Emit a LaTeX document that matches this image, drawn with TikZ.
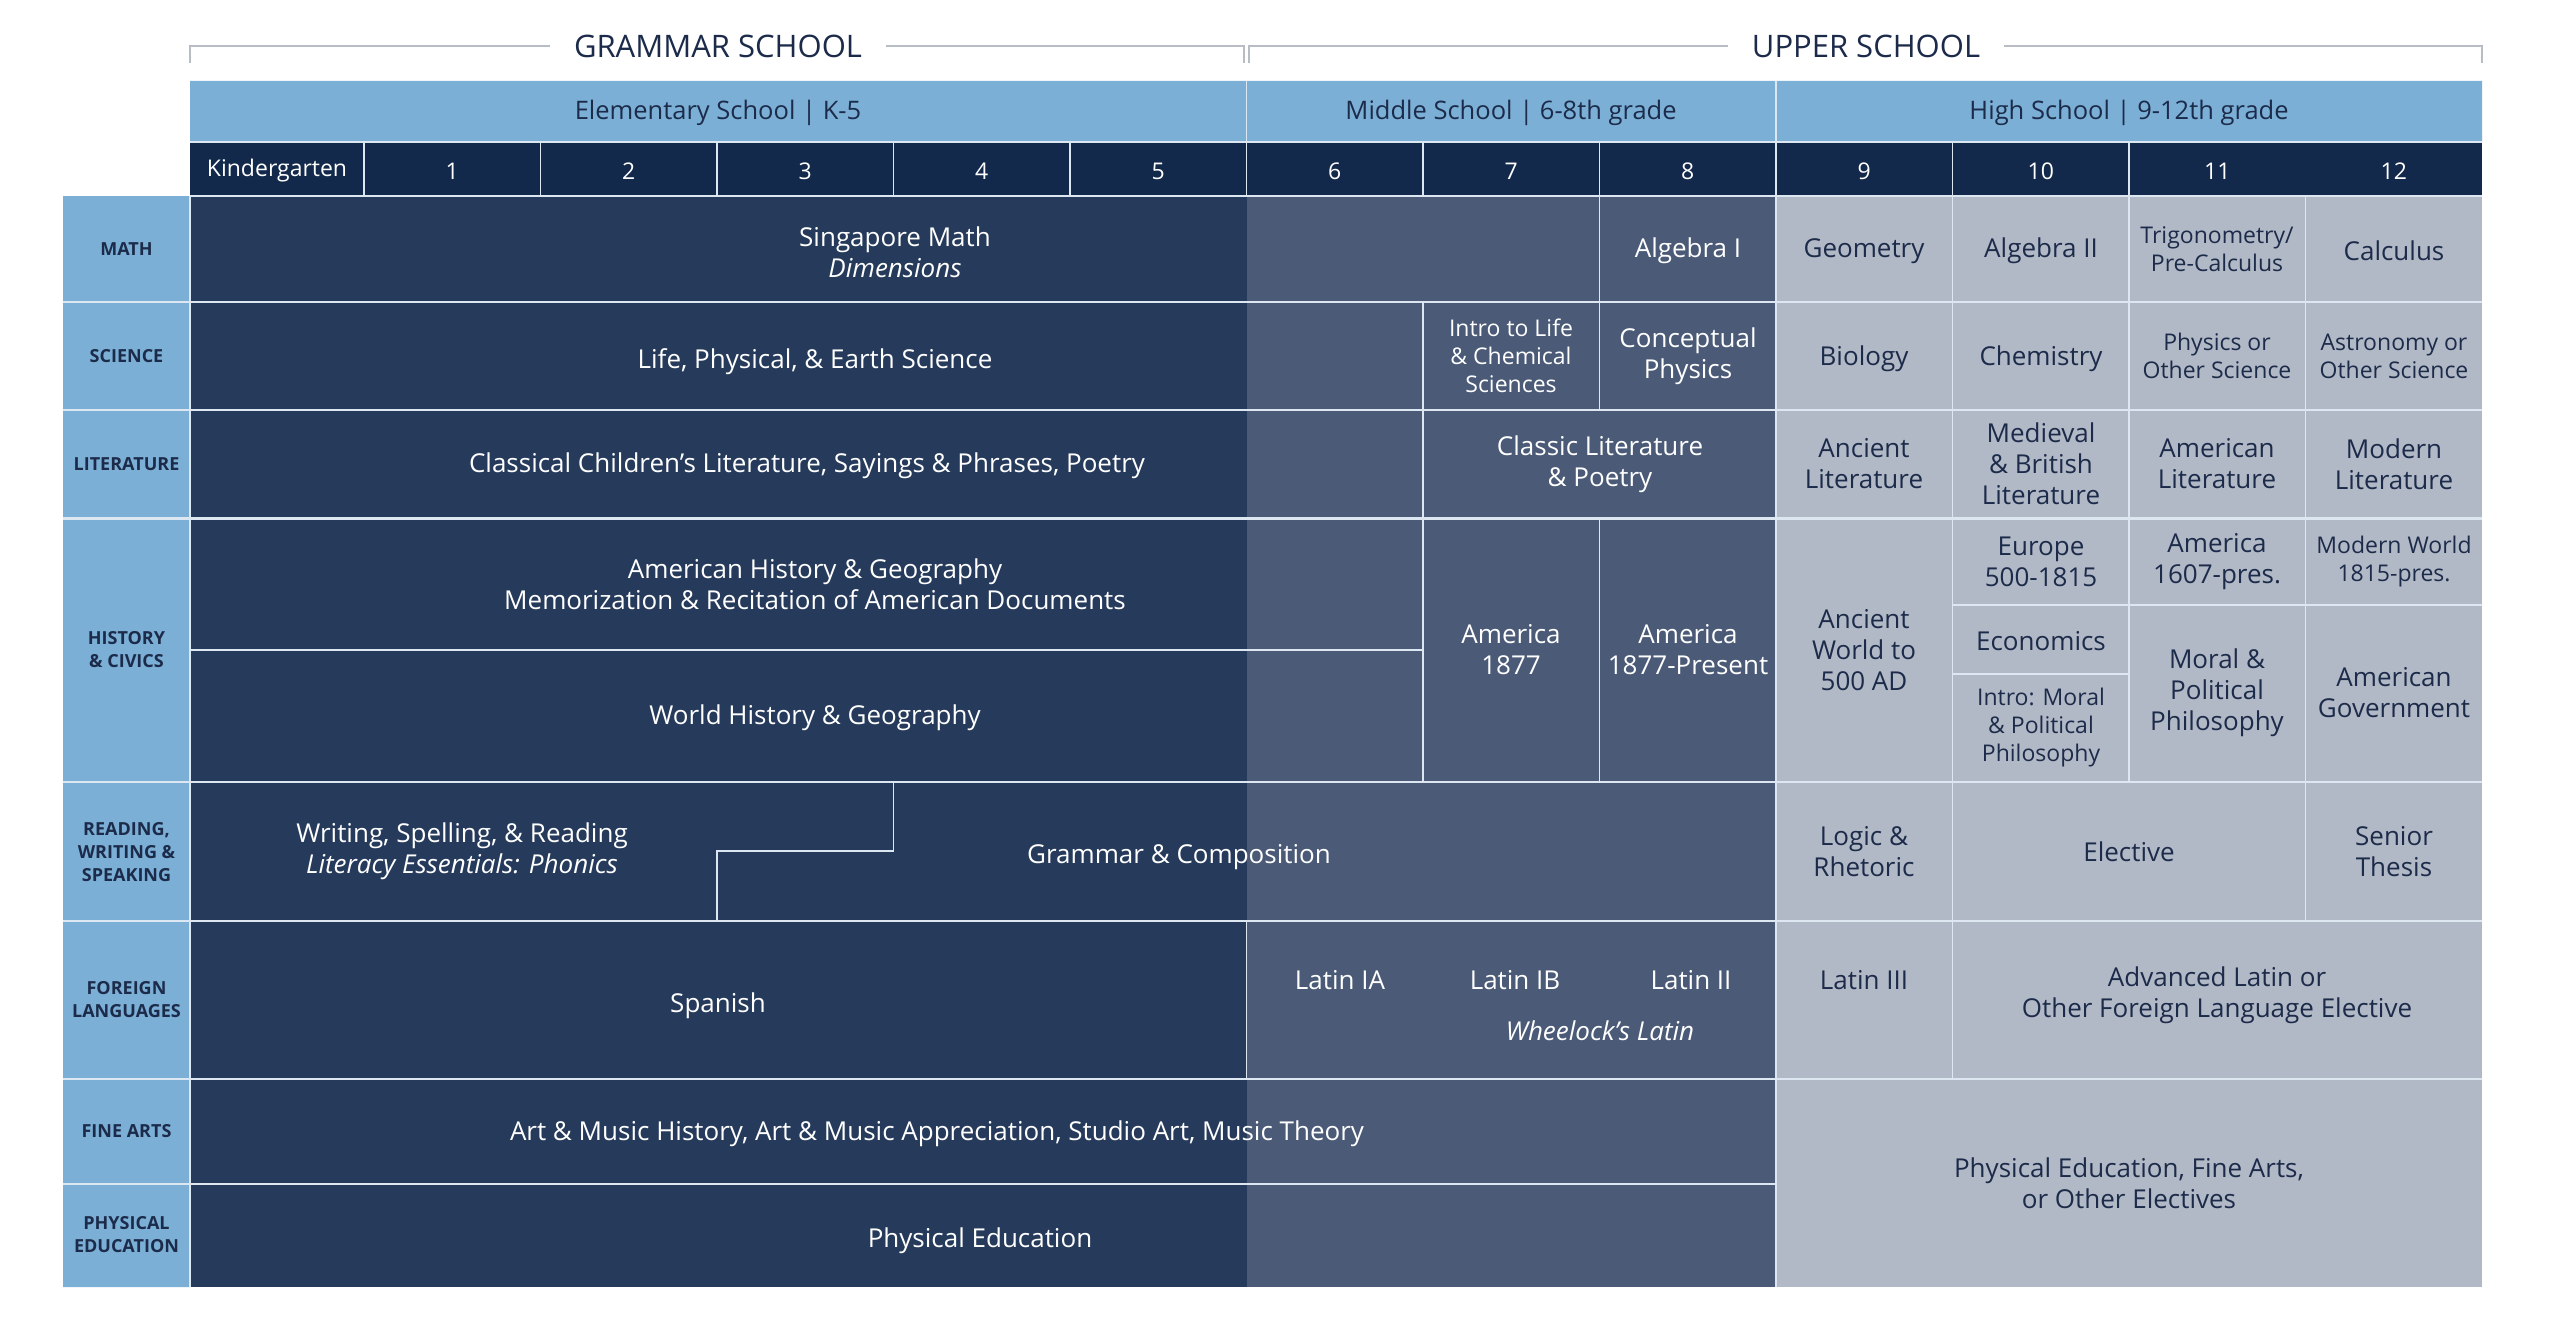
\documentclass[tikz,border=0pt]{standalone}
\usepackage{fontspec}
\setmainfont{Open Sans}
\definecolor{navy}{HTML}{13294B}
\definecolor{elem}{HTML}{263B5B}
\definecolor{mid}{HTML}{4A5A77}
\definecolor{high}{HTML}{B2B9C6}
\definecolor{sky}{HTML}{7BAFD6}
\definecolor{ink}{HTML}{1C2B4A}
\definecolor{rule}{HTML}{DDE7F2}
\definecolor{brack}{HTML}{B8BCC4}
\begin{document}
\begin{tikzpicture}[x=1pt,y=-1pt,
  rowline/.style={draw=rule,line width=2.5pt},
  cellline/.style={draw=rule,line width=1.6pt},
  brk/.style={draw=brack,line width=2pt},
  cell/.style={align=center,text=white,font=\fontsize{26}{31}\selectfont},
  lcell/.style={cell,text=ink},
  smtext/.style={font=\fontsize{23}{28}\selectfont},
  lab/.style={align=center,text=ink,font=\fontsize{18}{23}\selectfont\bfseries},
  lvl/.style={text=ink,font=\fontsize{25.5}{30}\selectfont},
  grd/.style={text=white,font=\fontsize{23}{28}\selectfont},
  ttl/.style={fill=white,inner xsep=24pt,text=ink,font=\fontsize{31}{36}\selectfont}]

% background and colour blocks
\fill[white] (0,0) rectangle (2560,1330);
\fill[sky] (190,81) rectangle (2482,142) (63,196) rectangle (190,1287);
\fill[navy] (190,142) rectangle (2482,196);
\fill[elem] (190,196) rectangle (1246.5,1287);
\fill[mid] (1246.5,196) rectangle (1776,1287);
\fill[high] (1776,196) rectangle (2482,1287);

% school brackets
\node[ttl] (gram) at (718,46) {GRAMMAR SCHOOL};
\node[ttl] (upper) at (1866,46) {UPPER SCHOOL};
\draw[brk] (gram) -| (190,63);
\draw[brk] (gram) -| (1244,63);
\draw[brk] (upper) -| (1249,63);
\draw[brk] (upper) -| (2482,63);

% levels and grades
\node[lvl] (elemlvl) at (718,113) {Elementary School | K-5};
\node[lvl] (midlvl) at (1511,113) {Middle School | 6-8th grade};
\node[lvl] (highlvl) at (2129,113) {High School | 9-12th grade};
\node[grd] (gK) at (277,171) {Kindergarten};
\foreach \g in {1,...,12}
  \node[grd] (g\g) at (275.75+176.5*\g,171) {\g};

% rules
\draw[rowline] (190,142) -- (2482,142) (190,196) -- (2482,196) (190,196) -- (190,1287);
\foreach \y in {302,410,518.5,782,921,1079}
  \draw[rowline] (63,\y) -- (2482,\y);
\draw[rowline] (63,1184) -- (1776,1184);
\draw[cellline] (1246.5,81) -- (1246.5,142) (1776,81) -- (1776,142);
\foreach \g in {0,...,10}
  \draw[cellline] (364+176.5*\g,142) -- (364+176.5*\g,196);
\draw[cellline] (1776,196) -- (1776,1287)
  (1952.5,196) -- (1952.5,1079) (2129,196) -- (2129,782) (2305.5,196) -- (2305.5,921)
  (1599.5,196) -- (1599.5,410) (1599.5,518.5) -- (1599.5,782)
  (1423,302) -- (1423,782) (1246.5,921) -- (1246.5,1079)
  (190,650) -- (1423,650) (1952.5,605) -- (2482,605) (1952.5,674) -- (2129,674)
  (893.5,782) -- (893.5,851) -- (717,851) -- (717,921);

% row labels
\foreach \n/\y/\t in {math/249/MATH, sci/356/SCIENCE, lit/464/LITERATURE,
    hist/650/{HISTORY\\\& CIVICS}, read/852/{READING,\\WRITING \&\\SPEAKING},
    lang/1000/{FOREIGN\\LANGUAGES}, arts/1131/FINE ARTS, pe/1235/{PHYSICAL\\EDUCATION}}
  \node[lab] (\n) at (126.5,\y) {\t};

% grammar school
\node[cell] (mathK) at (895,252) {Singapore Math\\\textit{Dimensions}};
\node[cell] (sciK) at (815,362) {Life, Physical, \& Earth Science};
\node[cell] (litK) at (807,466) {Classical Children’s Literature, Sayings \& Phrases, Poetry};
\node[cell] (histA) at (815,584) {American History \& Geography\\Memorization \& Recitation of American Documents};
\node[cell] (histW) at (815,718) {World History \& Geography};
\node[cell] (readK) at (462,851) {Writing, Spelling, \& Reading\\\textit{Literacy Essentials: Phonics}};
\node[cell] (gramc) at (1179,857) {Grammar \& Composition};
\node[cell] (span) at (718,1006) {Spanish};
\node[cell] (artsK) at (937,1134) {Art \& Music History, Art \& Music Appreciation, Studio Art, Music Theory};
\node[cell] (peK) at (980,1241) {Physical Education};

% middle school
\node[cell] (alg1) at (1688,251) {Algebra I};
\node[cell,smtext] (intro) at (1511,356) {Intro to Life\\\& Chemical\\Sciences};
\node[cell] (cphys) at (1688,356) {Conceptual\\Physics};
\node[cell] (classic) at (1600,464) {Classic Literature\\\& Poetry};
\node[cell] (am7) at (1511,650) {America\\1877};
\node[cell] (am8) at (1688,650) {America\\1877-Present};
\node[cell] (lat1a) at (1340,980) {Latin IA};
\node[cell] (lat1b) at (1515,980) {Latin IB};
\node[cell] (lat2) at (1691,980) {Latin II};
\node[cell] (wheel) at (1600,1031) {\textit{Wheelock’s Latin}};

% high school
\node[lcell] (geo) at (1864,251) {Geometry};
\node[lcell] (alg2) at (2041,251) {Algebra II};
\node[lcell,smtext] (trig) at (2217,249) {Trigonometry/\\Pre-Calculus};
\node[lcell] (calc) at (2394,251) {Calculus};
\node[lcell] (bio) at (1864,359) {Biology};
\node[lcell] (chem) at (2041,359) {Chemistry};
\node[lcell,smtext] (phys) at (2217,356) {Physics or\\Other Science};
\node[lcell,smtext] (astr) at (2394,356) {Astronomy or\\Other Science};
\node[lcell] (anclit) at (1864,464) {Ancient\\Literature};
\node[lcell] (medlit) at (2041,464) {Medieval\\\& British\\Literature};
\node[lcell] (amlit) at (2217,464) {American\\Literature};
\node[lcell] (modlit) at (2394,464) {Modern\\Literature};
\node[lcell] (ancw) at (1864,650) {Ancient\\World to\\500 AD};
\node[lcell] (eur) at (2041,562) {Europe\\500-1815};
\node[lcell] (econ) at (2041,641) {Economics};
\node[lcell,smtext] (imp) at (2041,728) {Intro: Moral\\\& Political\\Philosophy};
\node[lcell] (am11) at (2217,562) {America\\1607-pres.};
\node[lcell] (mpp) at (2217,693) {Moral \&\\Political\\Philosophy};
\node[lcell,smtext] (modw) at (2394,562) {Modern World\\1815-pres.};
\node[lcell] (amgov) at (2394,693) {American\\Government};
\node[lcell] (logic) at (1864,852) {Logic \&\\Rhetoric};
\node[lcell] (elec) at (2129,852) {Elective};
\node[lcell] (thesis) at (2394,852) {Senior\\Thesis};
\node[lcell] (lat3) at (1864,980) {Latin III};
\node[lcell] (advlat) at (2217,995) {Advanced Latin or\\Other Foreign Language Elective};
\node[lcell] (peh) at (2129,1183) {Physical Education, Fine Arts,\\or Other Electives};
\end{tikzpicture}
\end{document}
